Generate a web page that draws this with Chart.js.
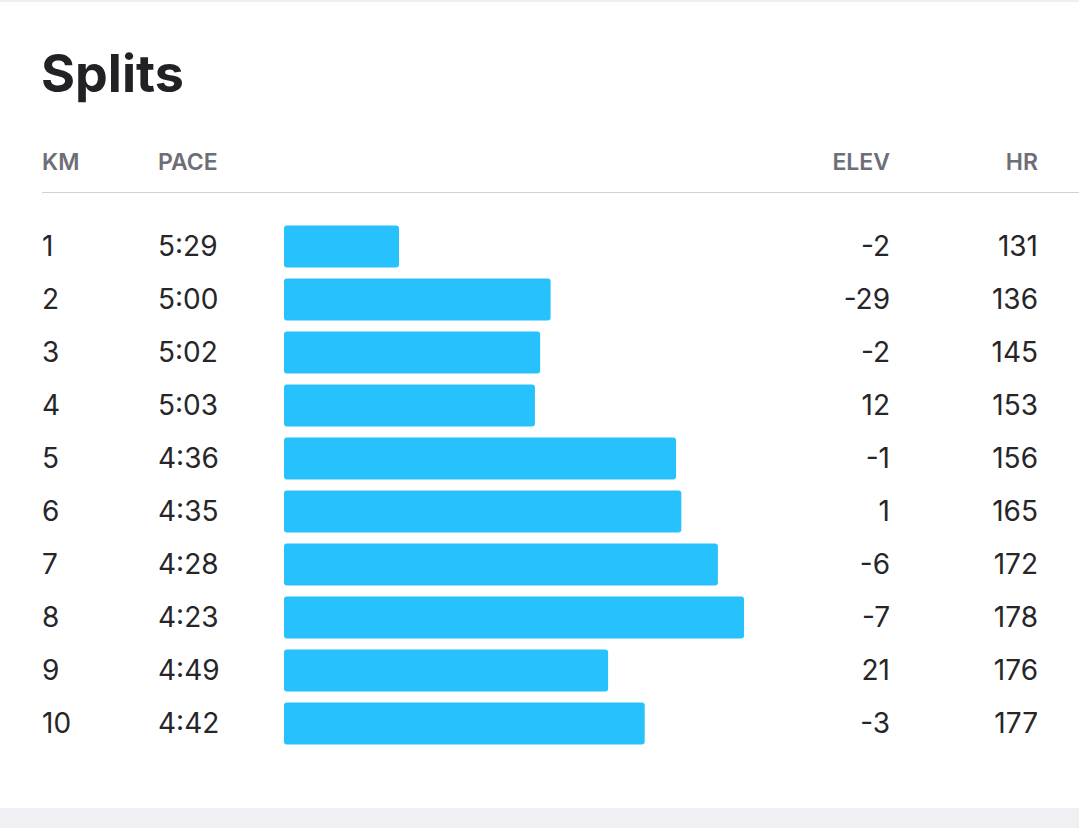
<!DOCTYPE html>
<html>
<head>
<meta charset="utf-8">
<script src="https://cdn.jsdelivr.net/npm/chart.js@4"></script>
<style>
  html, body { margin: 0; padding: 0; background: #fff; }
  body { width: 1079px; height: 828px; position: relative; overflow: hidden; font-family: Inter, "Noto Sans", sans-serif; }
  .topline { position: absolute; left: 0; top: 0; width: 1079px; height: 2px; background: #efeff2; }
  .bottom { position: absolute; left: 0; top: 808px; width: 1079px; height: 20px; background: #f0f0f4; }
  .title { position: absolute; left: 41px; top: 48px; font-size: 52px; font-weight: 700; line-height: 1; color: #222226; }
  .head { position: absolute; top: 151px; font-size: 23px; font-weight: 600; line-height: 1; color: #6e6e78; }
  .rule { position: absolute; left: 42px; top: 192px; width: 1037px; height: 1px; background: #d2d2d6; }
  .cell { position: absolute; font-size: 28px; font-weight: 400; line-height: 1; color: #262629; }
  .r { text-align: right; }
  #wrap { position: absolute; left: 284px; top: 220px; width: 528px; height: 530px; }
</style>
</head>
<body>
<div class="topline"></div>
<div class="title">Splits</div>
<div class="head" style="left:42px">KM</div>
<div class="head" style="left:158px">PACE</div>
<div class="head r" style="right:189px">ELEV</div>
<div class="head r" style="right:41px">HR</div>
<div class="rule"></div>
<div id="rows"></div>
<div id="wrap"><canvas id="splitsChart"></canvas></div>
<div class="bottom"></div>
<script>
const km = ['1', '2', '3', '4', '5', '6', '7', '8', '9', '10'];
const pace = ['5:29', '5:00', '5:02', '5:03', '4:36', '4:35', '4:28', '4:23', '4:49', '4:42'];
const elev = [-2, -29, -2, 12, -1, 1, -6, -7, 21, -3];
const hr = [131, 136, 145, 153, 156, 165, 172, 178, 176, 177];

// pace in seconds per km, faster = longer bar
const paceSeconds = pace.map((p) => {
    const parts = p.split(':');
    return parseInt(parts[0]) * 60 + parseInt(parts[1]);
});

const rows = document.getElementById('rows');
km.forEach((k, i) => {
    const top = 232 + i * 53;
    rows.innerHTML +=
        '<div class="cell" style="left:42px;top:' + top + 'px">' + k + '</div>' +
        '<div class="cell" style="left:158px;top:' + top + 'px">' + pace[i] + '</div>' +
        '<div class="cell r" style="right:189px;top:' + top + 'px">' + elev[i] + '</div>' +
        '<div class="cell r" style="right:41px;top:' + top + 'px">' + hr[i] + '</div>';
});

new Chart(document.getElementById('splitsChart'), {
    type: 'bar',
    data: {
        labels: km,
        datasets: [{
            label: 'Pace',
            data: paceSeconds,
            base: 351,
            backgroundColor: '#27c2fd',
            borderRadius: 3,
            borderSkipped: false,
            barPercentage: 0.79,
            categoryPercentage: 1
        }]
    },
    options: {
        indexAxis: 'y',
        responsive: true,
        maintainAspectRatio: false,
        animation: false,
        layout: { padding: 0 },
        plugins: { legend: { display: false }, tooltip: { enabled: false } },
        scales: {
            x: { display: false, reverse: true, min: 250, max: 351 },
            y: { display: false }
        }
    }
});
</script>
</body>
</html>
